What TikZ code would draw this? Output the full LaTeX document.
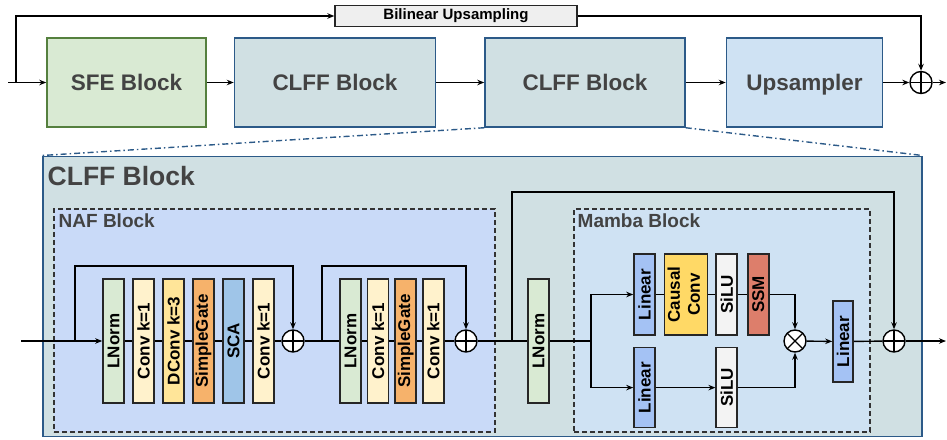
\documentclass[tikz,border=0pt]{standalone}
\usepackage{fontspec}
\setmainfont{Liberation Sans}
\usepackage{graphicx}
\usetikzlibrary{arrows.meta,positioning}

\definecolor{headgray}{HTML}{434343}
\definecolor{sfefill}{HTML}{D9EAD3}
\definecolor{sfedraw}{HTML}{55803E}
\definecolor{clfffill}{HTML}{D0E0E3}
\definecolor{clffdraw}{HTML}{2C5A88}
\definecolor{upsfill}{HTML}{CFE2F3}
\definecolor{bilfill}{HTML}{EFEFEF}
\definecolor{nafbg}{HTML}{C9DAF8}
\definecolor{mambabg}{HTML}{CFE2F3}
\definecolor{lnfill}{HTML}{D9EAD3}
\definecolor{convfill}{HTML}{FFF2CC}
\definecolor{dconvfill}{HTML}{FFE599}
\definecolor{gatefill}{HTML}{F6B26B}
\definecolor{scafill}{HTML}{9FC5E8}
\definecolor{linfill}{HTML}{A4C2F4}
\definecolor{causalfill}{HTML}{FFD966}
\definecolor{silufill}{HTML}{F3F3F3}
\definecolor{ssmfill}{HTML}{DD7E6B}

\newcommand{\vtext}[1]{\rotatebox{90}{#1}}

\tikzset{
    %Define standard arrow tip
    >={Stealth[length=7pt,width=5.5pt]},
    %Define style for the pipeline boxes
    stage/.style={
           rectangle,
           line width=1.5pt,
           minimum height=89pt,
           inner sep=0pt,
           text height=16pt,
           text depth=0pt,
           text=headgray,
           font=\fontsize{22.5}{27}\selectfont\bfseries},
    bilin/.style={
           rectangle,
           draw=black!85, line width=1.4pt,
           fill=bilfill,
           minimum width=242pt,
           minimum height=21pt,
           inner sep=0pt,
           font=\fontsize{15}{18}\selectfont\bfseries},
    bigbox/.style={
           rectangle,
           draw=clffdraw, line width=1.6pt,
           fill=clfffill,
           inner sep=0pt},
    subbox/.style={
           rectangle,
           draw=black!80, line width=1.5pt,
           dash pattern=on 5pt off 3pt,
           minimum height=223pt,
           anchor=north west,
           inner sep=0pt},
    title/.style={
           anchor=west,
           inner sep=0pt,
           text=headgray,
           font=\fontsize{19}{22}\selectfont\bfseries},
    %Define style for the small layer boxes
    blk/.style={
           rectangle,
           draw=black!85, line width=1.6pt,
           minimum width=21pt,
           minimum height=124pt,
           inner sep=0pt,
           font=\fontsize{17}{18.5}\selectfont\bfseries},
    sblk/.style={blk, minimum height=81pt},
    sum/.style={
           circle,
           draw=black, line width=1.4pt,
           fill=white,
           minimum size=22pt,
           inner sep=0pt,
           path picture={\draw[line width=1.3pt]
              (path picture bounding box.north) -- (path picture bounding box.south)
              (path picture bounding box.west) -- (path picture bounding box.east);}},
    mul/.style={
           sum,
           path picture={\draw[line width=1.3pt]
              (path picture bounding box.north west) -- (path picture bounding box.south east)
              (path picture bounding box.north east) -- (path picture bounding box.south west);}},
    zoomline/.style={
           draw=clffdraw, line width=1.4pt,
           dash pattern=on 6pt off 3pt on 1.5pt off 3pt}
}

\begin{document}
\begin{tikzpicture}[x=1pt,y=-1pt,line width=1.4pt]
\useasboundingbox (0,0) rectangle (947,439);

% top pipeline
\node[stage, fill=sfefill, draw=sfedraw, minimum width=159pt] (sfe) at (126.5,82.5) {SFE Block};
\node[stage, fill=clfffill, draw=clffdraw, minimum width=201pt, right=27pt of sfe] (clff1) {CLFF Block};
\node[stage, fill=clfffill, draw=clffdraw, minimum width=200pt, right=48pt of clff1] (clff2) {CLFF Block};
\node[stage, fill=upsfill, draw=clffdraw, minimum width=156pt, right=40pt of clff2] (ups) {Upsampler};
\node[bilin] (bil) at (456,16) {Bilinear Upsampling};
\node[sum] (sum0) at (921,82.5) {};
\coordinate (in0) at (8,82.5);
\coordinate (j0) at (16,82.5);
\coordinate (out0) at (946,82.5);

\draw[->] (in0) -- (sfe);
\draw[->] (j0) |- (bil);
\draw[->] (bil) -| (sum0);
\draw[->] (sfe) -- (clff1);
\draw[->] (clff1) -- (clff2);
\draw[->] (clff2) -- (ups);
\draw[->] (ups) -- (sum0);
\draw[->] (sum0) -- (out0);

% expanded CLFF block
\node[bigbox, minimum width=879pt, minimum height=280pt, anchor=north west] (clff) at (42,155.5) {};
\draw[zoomline] (clff2.south west) -- (clff.north west);
\draw[zoomline] (clff2.south east) -- (clff.north east);
\node[title, font=\fontsize{26.5}{30}\selectfont\bfseries] (clfftitle) at (47,176) {CLFF Block};

\node[subbox, fill=nafbg, minimum width=441pt] (naf) at (53,208) {};
\node[subbox, fill=mambabg, minimum width=296pt] (mamba) at (573,208) {};
\node[title] (naftitle) at (58,221) {NAF Block};
\node[title] (mambatitle) at (577,221) {Mamba Block};

% NAF layers
\node[blk, fill=lnfill] (ln1) at (113.5,341) {\vtext{LNorm}};
\node[blk, fill=convfill, right=7.4pt of ln1] (c1) {\vtext{Conv k=1}};
\node[blk, fill=dconvfill, right=7.4pt of c1] (dc) {\vtext{DConv k=3}};
\node[blk, fill=gatefill, right=7.4pt of dc] (sg1) {\vtext{SimpleGate}};
\node[blk, fill=scafill, right=7.4pt of sg1] (sca) {\vtext{SCA}};
\node[blk, fill=convfill, right=7.4pt of sca] (c2) {\vtext{Conv k=1}};
\node[sum] (add1) at (293,341) {};

\node[blk, fill=lnfill] (ln2) at (350.5,341) {\vtext{LNorm}};
\node[blk, fill=convfill, right=5pt of ln2] (c3) {\vtext{Conv k=1}};
\node[blk, fill=gatefill, right=5pt of c3] (sg2) {\vtext{SimpleGate}};
\node[blk, fill=convfill, right=5pt of sg2] (c4) {\vtext{Conv k=1}};
\node[sum] (add2) at (466,341) {};

\node[blk, fill=lnfill] (ln3) at (538.5,341) {\vtext{LNorm}};

% Mamba layers
\node[sblk, fill=linfill] (lin1) at (644.5,294.5) {\vtext{Linear}};
\node[sblk, fill=causalfill, minimum width=43pt, right=8pt of lin1] (cconv) {\vtext{\begin{tabular}{@{}c@{}}Causal\\[1.5pt]Conv\end{tabular}}};
\node[sblk, fill=silufill, right=7pt of cconv] (silu1) {\vtext{SiLU}};
\node[sblk, fill=ssmfill, right=9pt of silu1] (ssm) {\vtext{SSM}};
\node[sblk, fill=linfill, minimum height=80pt, below=11pt of lin1] (lin2) {\vtext{Linear}};
\node[sblk, fill=silufill, minimum height=80pt, below=11pt of silu1] (silu2) {\vtext{SiLU}};
\node[mul] (prod) at (795,341) {};
\node[sblk, fill=linfill, minimum width=20pt] (lin3) at (843,341.5) {\vtext{Linear}};
\node[sum] (add3) at (894,341) {};

\coordinate (in1) at (21,341);
\coordinate (s1) at (75,341);
\coordinate (s2) at (322,341);
\coordinate (s3) at (512,341);
\coordinate (sp) at (591,341);
\coordinate (out1) at (946,341);

% main path
\draw[->] (in1) -- (ln1);
\draw (ln1) -- (c1) -- (dc) -- (sg1) -- (sca) -- (c2) -- (add1) -- (ln2);
\draw (ln2) -- (c3) -- (sg2) -- (c4) -- (add2) -- (ln3) -- (sp);
\draw[->] (s1) -- ++(0,-75) -| (add1);
\draw[->] (s2) -- ++(0,-75) -| (add2);
\draw[->] (s3) -- ++(0,-149) -| (add3);

% Mamba branches
\draw[->] (sp) |- (lin1);
\draw[->] (sp) |- (lin2);
\draw (lin1) -- (cconv) -- (silu1) -- (ssm);
\draw[->] (ssm) -| (prod);
\draw[->] (lin2) -- (silu2);
\draw[->] (silu2) -| (prod);
\draw[->] (prod) -- (lin3);
\draw (lin3) -- (add3);
\draw[->] (add3) -- (out1);
\end{tikzpicture}
\end{document}
